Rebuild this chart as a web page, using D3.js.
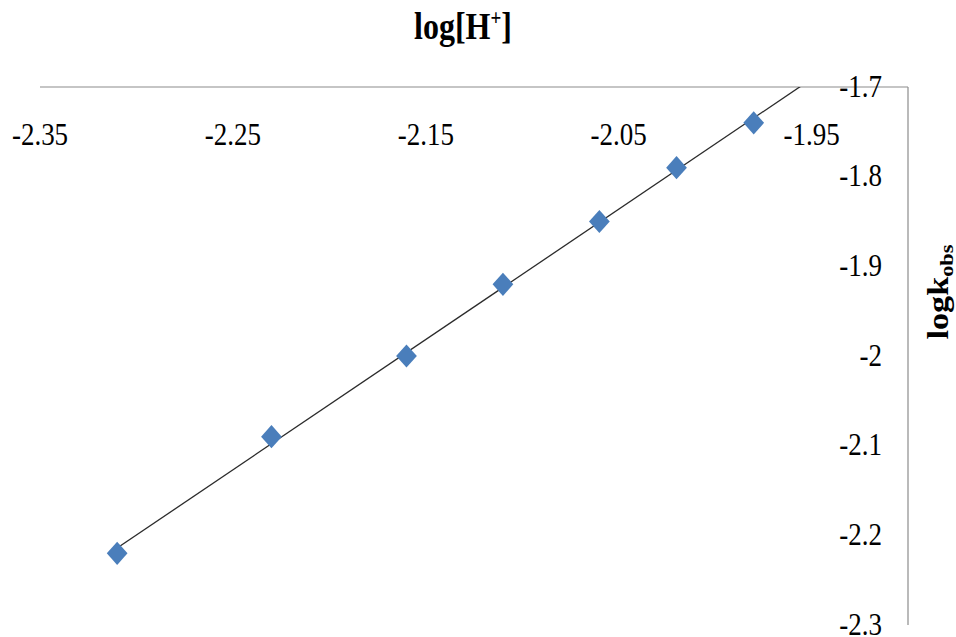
<!DOCTYPE html>
<html>
<head>
<meta charset="utf-8">
<script src="https://cdn.jsdelivr.net/npm/d3@7"></script>
<style>
  html, body { margin: 0; padding: 0; background: #fff; }
  svg { display: block; }
</style>
</head>
<body>
<svg id="chart" width="956" height="637"></svg>
<script>
// ---- data ----
const logH = [-2.31, -2.23, -2.16, -2.11, -2.06, -2.02, -1.98];
const logKobs = [-2.22, -2.09, -2.00, -1.92, -1.85, -1.79, -1.74];
const xTickValues = [-2.35, -2.25, -2.15, -2.05, -1.95];
const xTickLabels = ["-2.35", "-2.25", "-2.15", "-2.05", "-1.95"];
const yTickValues = [-1.7, -1.8, -1.9, -2.0, -2.1, -2.2, -2.3];
const yTickLabels = ["-1.7", "-1.8", "-1.9", "-2", "-2.1", "-2.2", "-2.3"];
const xDomain = [-2.35, -1.9];
const yDomain = [-2.3, -1.7];

const FONT = "'Liberation Serif', 'Times New Roman', Tinos, 'DejaVu Serif', serif";
const svg = d3.select("#chart");
const x = d3.scaleLinear().domain(xDomain).range([40, 908]);
const y = d3.scaleLinear().domain(yDomain).range([625, 87]);
const SY = 1.18; // vertical stretch of text in the reference

// axes lines (no tick marks)
svg.append("line").attr("x1", x(xDomain[0])).attr("x2", x(xDomain[1]))
  .attr("y1", y(yDomain[1])).attr("y2", y(yDomain[1]))
  .attr("stroke", "#8c8c8c").attr("stroke-width", 1.2);
svg.append("line").attr("x1", x(xDomain[1])).attr("x2", x(xDomain[1]))
  .attr("y1", y(yDomain[1])).attr("y2", y(yDomain[0]))
  .attr("stroke", "#8c8c8c").attr("stroke-width", 1.2);

// x tick labels
svg.append("g").selectAll("text").data(xTickValues).join("text")
  .attr("transform", d => `translate(${x(d)},145) scale(1,${SY})`)
  .attr("text-anchor", "middle")
  .attr("font-family", FONT)
  .attr("font-size", 27)
  .text((d, i) => xTickLabels[i]);

// y tick labels
svg.append("g").selectAll("text").data(yTickValues).join("text")
  .attr("transform", d => `translate(882,${y(d) + 9.5}) scale(1,${SY})`)
  .attr("text-anchor", "end")
  .attr("font-family", FONT)
  .attr("font-size", 27)
  .text((d, i) => yTickLabels[i]);

// trend line (least squares), clipped to plot area
const mx = d3.mean(logH), my = d3.mean(logKobs);
const sxy = d3.sum(logH, (v, i) => (v - mx) * (logKobs[i] - my));
const sxx = d3.sum(logH, v => (v - mx) * (v - mx));
const slope = sxy / sxx, icpt = my - slope * mx;
svg.append("clipPath").attr("id", "plotclip").append("rect")
  .attr("x", x(xDomain[0])).attr("y", y(yDomain[1]))
  .attr("width", x(xDomain[1]) - x(xDomain[0])).attr("height", y(yDomain[0]) - y(yDomain[1]));
const x0 = d3.min(logH), x1 = xDomain[1];
svg.append("line")
  .attr("clip-path", "url(#plotclip)")
  .attr("x1", x(x0)).attr("y1", y(slope * x0 + icpt))
  .attr("x2", x(x1)).attr("y2", y(slope * x1 + icpt))
  .attr("stroke", "#2b2b2b").attr("stroke-width", 1.3);

// markers
const sym = d3.symbol().type(d3.symbolSquare).size(215);
svg.append("g").selectAll("path").data(logH).join("path")
  .attr("d", sym)
  .attr("transform", (d, i) => `translate(${x(d)},${y(logKobs[i])}) scale(1,1.12) rotate(45)`)
  .attr("fill", "#4A7EBB");

// title
const t = svg.append("text")
  .attr("transform", `translate(463,39) scale(1,${SY})`)
  .attr("text-anchor", "middle")
  .attr("font-family", FONT)
  .attr("font-size", 32).attr("font-weight", "bold");
t.append("tspan").text("log[H");
t.append("tspan").attr("font-size", 19).attr("dy", -12).text("+");
t.append("tspan").attr("dy", 12).text("]");

// y axis label
const yl = svg.append("text")
  .attr("transform", `translate(948,292) scale(1,${SY}) rotate(-90)`)
  .attr("text-anchor", "middle")
  .attr("font-family", FONT)
  .attr("font-size", 29).attr("font-weight", "bold");
yl.append("tspan").text("logk");
yl.append("tspan").attr("font-size", 19).attr("dy", 5).text("obs");
</script>
</body>
</html>
